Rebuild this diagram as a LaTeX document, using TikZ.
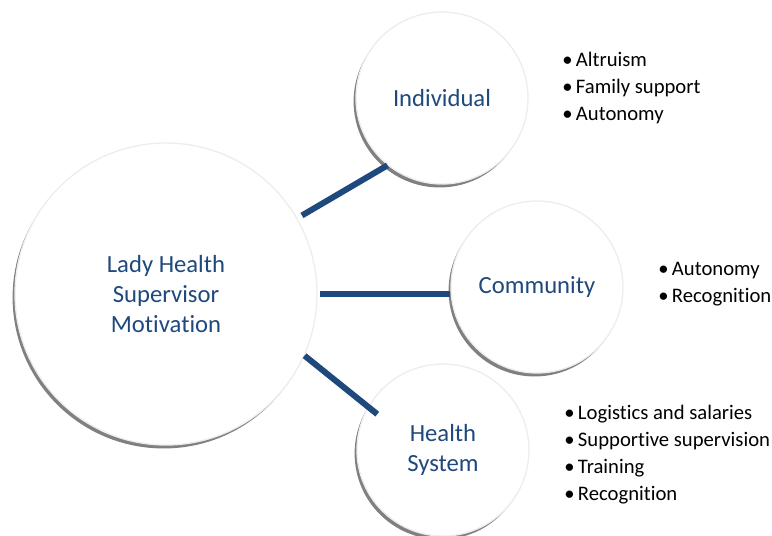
\documentclass[tikz,border=0pt]{standalone}
\usepackage{fontspec}
\setmainfont{Carlito}[Ligatures=NoCommon]
\usepackage{xcolor}
\usetikzlibrary{shadows}
\definecolor{lhsblue}{RGB}{31,73,125}

\begin{document}
\begin{tikzpicture}[x=0.75pt,y=0.75pt]

	\tikzstyle{bubble} = [circle,draw=black!7,line width=1pt,fill=white,text=lhsblue,align=center,font=\fontsize{18.5}{22.5}\selectfont,drop shadow={shadow xshift=-1.8pt,shadow yshift=-2.6pt,fill=black!50,opacity=1}]
	\tikzstyle{link} = [lhsblue,line width=4.5pt]
	\tikzstyle{items} = [anchor=west,align=left,inner sep=0pt,font=\fontsize{15.5}{20.25}\selectfont]

	\useasboundingbox (0,0) rectangle (772,536);

	% circles
	\node[bubble,minimum size=226.5pt] (lhs) at (166,242) {Lady Health\\Supervisor\\Motivation};
	\node[bubble,minimum size=129pt] (indiv) at (442,438) {Individual};
	\node[bubble,minimum size=129pt] (comm) at (537,249) {Community};
	\node[bubble,minimum size=129pt] (health) at (443,86) {Health\\System};

	% links
	\draw[link,shorten <=4pt] (lhs.30) -- (indiv.231);
	\draw[link,shorten <=2pt] (lhs.east) -- (lhs.east -| comm.west);
	\draw[link,shorten >=-9pt] (lhs.336) -- (health.150);

	% bullet lists
	\node[items] (indivlist) at (562,448) {\textbullet\,Altruism\\\textbullet\,Family support\\\textbullet\,Autonomy};
	\node[items] (commlist) at (658,252) {\textbullet\,Autonomy\\\textbullet\,Recognition};
	\node[items] (healthlist) at (564,81.5) {\textbullet\,Logistics and salaries\\\textbullet\,Supportive supervision\\\textbullet\,Training\\\textbullet\,Recognition};
\end{tikzpicture}
\end{document}
